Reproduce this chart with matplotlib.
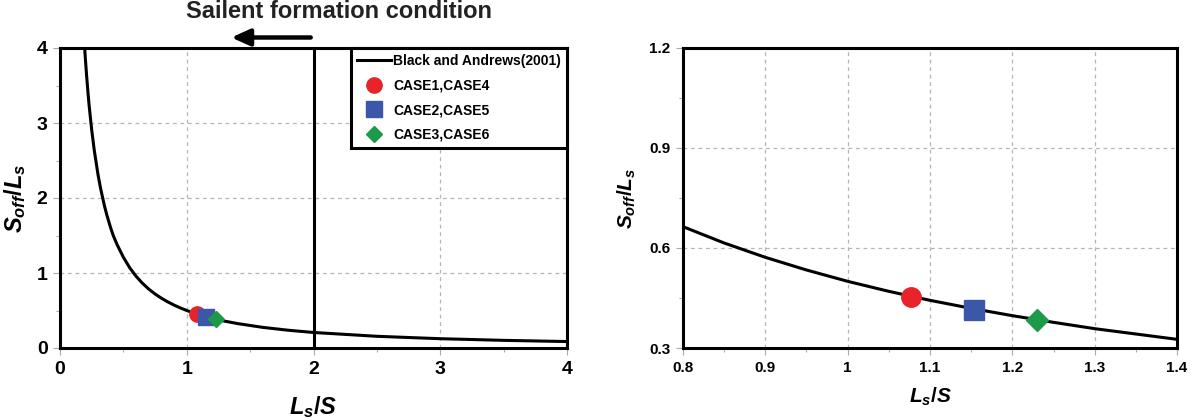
import matplotlib
matplotlib.use('Agg')
import matplotlib.pyplot as plt
from matplotlib.lines import Line2D
from matplotlib.ticker import MultipleLocator
import matplotlib.transforms as mtransforms

# Curve (Black and Andrews, 2001)
curve_x = [0.19, 0.2, 0.21, 0.22, 0.23, 0.25, 0.27, 0.3, 0.32, 0.35, 0.37, 0.4, 0.42, 0.45,
           0.5, 0.55, 0.6, 0.65, 0.7, 0.75, 0.8, 0.85, 0.9, 0.95,
           1.0, 1.05, 1.1, 1.15, 1.2, 1.25, 1.3, 1.35, 1.4, 1.6, 1.8, 2.0, 2.5, 3.0, 3.5, 4.0]
curve_y = [4.12, 3.86, 3.63, 3.42, 3.23, 2.91, 2.64, 2.31, 2.13, 1.90, 1.77, 1.60, 1.50, 1.38,
           1.21, 1.07, 0.957, 0.864, 0.786, 0.720, 0.664, 0.615, 0.572, 0.534,
           0.500, 0.470, 0.443, 0.419, 0.397, 0.377, 0.358, 0.342, 0.326, 0.275, 0.237, 0.207,
           0.156, 0.124, 0.102, 0.086]

# Case points
case_labels = ['CASE1,CASE4', 'CASE2,CASE5', 'CASE3,CASE6']
case_x = [1.077, 1.153, 1.23]
case_y = [0.454, 0.414, 0.384]
case_colors = ['#e8232a', '#3b57a8', '#1c9a48']
case_markers = ['o', 's', 'D']

limit_x = 2.0

plt.rcParams['font.family'] = ['Liberation Sans', 'DejaVu Sans']
plt.rcParams['font.weight'] = 'bold'
plt.rcParams['mathtext.fontset'] = 'custom'
plt.rcParams['mathtext.it'] = 'Liberation Sans:italic:bold'
plt.rcParams['mathtext.rm'] = 'Liberation Sans:bold'
plt.rcParams['mathtext.bf'] = 'Liberation Sans:bold'

fig = plt.figure(figsize=(11.97, 4.2), dpi=100)
ax1 = fig.add_axes([60 / 1197, 72 / 420, 507 / 1197, 300 / 420])
ax2 = fig.add_axes([683 / 1197, 72 / 420, 494 / 1197, 300 / 420])


def style_axes(ax, size):
    for s in ax.spines.values():
        s.set_linewidth(2.2)
        s.set_color('black')
    ax.tick_params(which='both', direction='out', color='#aaaaaa', width=0.8)
    ax.tick_params(which='major', length=5, labelsize=size, pad=4)
    ax.tick_params(which='minor', length=3)
    ax.grid(True, which='major', color='#b5b5b5', linestyle=(0, (3, 3)), linewidth=0.9)
    ax.set_axisbelow(True)
    for lab in ax.get_xticklabels() + ax.get_yticklabels():
        lab.set_fontweight('bold')


# Left panel
ax1.plot(curve_x, curve_y, color='black', linewidth=2.2, zorder=3)
ax1.axvline(limit_x, color='black', linewidth=2.2, zorder=3)
for xx, yy, c, m in zip(case_x, case_y, case_colors, case_markers):
    ax1.plot(xx, yy, marker=m, color=c, markersize=11 if m != 'D' else 8,
             linestyle='none', zorder=4)
ax1.set_xlim(0, 4)
ax1.set_ylim(0, 4)
ax1.xaxis.set_major_locator(MultipleLocator(1))
ax1.yaxis.set_major_locator(MultipleLocator(1))
ax1.xaxis.set_minor_locator(MultipleLocator(0.5))
ax1.yaxis.set_minor_locator(MultipleLocator(0.5))
style_axes(ax1, 14)
ax1.set_xlabel(r'$L_s/S$', fontsize=17, labelpad=12)
ax1.set_ylabel(r'$S_{off}/L_s$', fontsize=17, labelpad=6)

handles = [Line2D([0], [0], color='black', linewidth=2.2)]
for c, m in zip(case_colors, case_markers):
    handles.append(Line2D([0], [0], marker=m, color=c, linestyle='none',
                          markersize=11 if m != 'D' else 8))
leg = ax1.legend(handles, ['Black and Andrews(2001)'] + case_labels,
                 loc='upper right', borderaxespad=0, fancybox=False,
                 frameon=True, edgecolor='black', framealpha=1,
                 prop={'family': 'Liberation Sans', 'weight': 'bold', 'size': 10},
                 handlelength=2.4, handletextpad=0.15, labelspacing=0.75,
                 borderpad=0.45)
leg.get_frame().set_linewidth(2.2)

# Title and arrow above the left panel
trans = mtransforms.blended_transform_factory(ax1.transData, ax1.transAxes)
ax1.annotate('', xy=(1.33, 1.035), xytext=(2.0, 1.035), xycoords=trans,
             textcoords=trans,
             arrowprops=dict(arrowstyle='-|>,head_length=1.1,head_width=0.5',
                             color='black', linewidth=3.2), annotation_clip=False)
ax1.text(2.2, 1.12, 'Sailent formation condition', transform=trans,
         ha='center', va='center', fontsize=17, fontweight='bold', color='#222222')

# Right panel
ax2.plot(curve_x, curve_y, color='black', linewidth=2.2, zorder=3)
for xx, yy, c, m in zip(case_x, case_y, case_colors, case_markers):
    ax2.plot(xx, yy, marker=m, color=c, markersize=14 if m != 'D' else 11,
             linestyle='none', zorder=4)
ax2.set_xlim(0.8, 1.4)
ax2.set_ylim(0.3, 1.2)
ax2.xaxis.set_minor_locator(MultipleLocator(0.05))
ax2.yaxis.set_minor_locator(MultipleLocator(0.15))
ax2.set_xticks([0.8, 0.9, 1.0, 1.1, 1.2, 1.3, 1.4])
ax2.set_xticklabels(['0.8', '0.9', '1', '1.1', '1.2', '1.3', '1.4'])
ax2.set_yticks([0.3, 0.6, 0.9, 1.2])
ax2.set_yticklabels(['0.3', '0.6', '0.9', '1.2'])
style_axes(ax2, 11)
ax2.set_xlabel(r'$L_s/S$', fontsize=15, labelpad=8)
ax2.set_ylabel(r'$S_{off}/L_s$', fontsize=15, labelpad=8)

fig.savefig('out.png', dpi=100)
